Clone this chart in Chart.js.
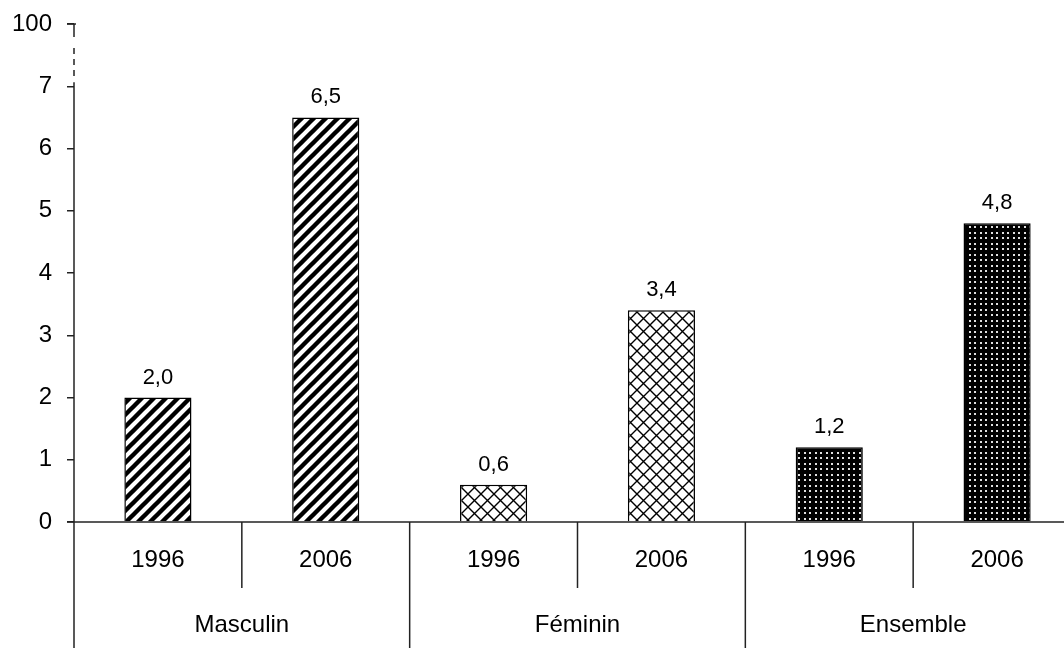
<!DOCTYPE html>
<html>
<head>
<meta charset="utf-8">
<script src="https://cdn.jsdelivr.net/npm/chart.js@4.4.1/dist/chart.umd.min.js"></script>
<style>
  html, body { margin: 0; padding: 0; background: #fff; overflow: hidden; width: 1064px; height: 648px; }
  #wrap { width: 1081px; height: 648px; }
</style>
</head>
<body>
<div id="wrap"><canvas id="c" width="1081" height="648"></canvas></div>
<script>
const groups = ['Masculin', 'Féminin', 'Ensemble'];
const years = ['1996', '2006', '1996', '2006', '1996', '2006'];
const rates = [2.0, 6.5, 0.6, 3.4, 1.2, 4.8];
const yTickLabels = ['0', '1', '2', '3', '4', '5', '6', '7', '100'];

const FONT = '"Liberation Sans", Arial, sans-serif';
Chart.defaults.color = '#000';
Chart.defaults.font.family = FONT;

function tile(size, draw) {
  const t = document.createElement('canvas');
  t.width = t.height = size;
  const g = t.getContext('2d');
  draw(g, size);
  return g.createPattern(t, 'repeat');
}

// diagonal stripes for Masculin
const stripes = tile(12, (g, s) => {
  g.fillStyle = '#fff';
  g.fillRect(0, 0, s, s);
  g.strokeStyle = '#000';
  g.lineWidth = 4.4;
  g.beginPath();
  g.moveTo(-s / 2, s / 2); g.lineTo(s / 2, -s / 2);
  g.moveTo(0, s); g.lineTo(s, 0);
  g.moveTo(s / 2, s * 1.5); g.lineTo(s * 1.5, s / 2);
  g.stroke();
});

// thin crosshatch for Féminin
const hatch = tile(13, (g, s) => {
  g.fillStyle = '#fff';
  g.fillRect(0, 0, s, s);
  g.strokeStyle = '#000';
  g.lineWidth = 1.4;
  g.beginPath();
  g.moveTo(-1, -1); g.lineTo(s + 1, s + 1);
  g.moveTo(-1, s + 1); g.lineTo(s + 1, -1);
  g.stroke();
});

// black with light dots for Ensemble
const dots = tile(11, (g, s) => {
  g.fillStyle = '#000';
  g.fillRect(0, 0, s, s);
  g.fillStyle = '#e0e0e0';
  [[1, 1], [6, 1], [1, 6], [6, 6]].forEach(([a, b]) => g.fillRect(a, b, 2, 2));
});

const fills = [stripes, stripes, hatch, hatch, dots, dots];

const decor = {
  id: 'decor',
  afterDatasetsDraw(chart) {
    const ctx = chart.ctx;
    ctx.save();
    ctx.font = '22px ' + FONT;
    ctx.fillStyle = '#000';
    ctx.textAlign = 'center';
    ctx.textBaseline = 'alphabetic';
    chart.getDatasetMeta(0).data.forEach((bar, i) => {
      ctx.fillText(rates[i].toFixed(1).replace('.', ','), bar.x, bar.y - 14);
    });
    ctx.restore();
  },
  afterDraw(chart) {
    const { ctx, scales: { x, y } } = chart;
    const y0 = y.getPixelForValue(0);
    const ax = x.left;
    const line = (x1, y1, x2, y2) => {
      ctx.beginPath(); ctx.moveTo(x1, y1); ctx.lineTo(x2, y2); ctx.stroke();
    };
    ctx.save();
    ctx.strokeStyle = '#222';
    ctx.lineWidth = 1.5;
    // y axis, solid part, running down as the first group border
    line(ax, y.getPixelForValue(7) - 4, ax, chart.height);
    // axis break up to 100
    line(ax - 7, y.getPixelForValue(8), ax + 2, y.getPixelForValue(8));
    line(ax, y.getPixelForValue(8), ax, y.getPixelForValue(8) + 13);
    ctx.setLineDash([6, 5]);
    line(ax, y.getPixelForValue(8) + 24, ax, y.getPixelForValue(7) - 8);
    ctx.setLineDash([]);
    // x axis
    line(ax - 7, y0, x.right, y0);
    // dividers between categories
    for (let i = 0; i < years.length - 1; i++) {
      const xm = (x.getPixelForValue(i) + x.getPixelForValue(i + 1)) / 2;
      const isGroup = (i + 1) % 2 === 0;
      line(xm, y0, xm, isGroup ? chart.height : y0 + 66);
    }
    // labels
    ctx.fillStyle = '#000';
    ctx.font = '24px ' + FONT;
    ctx.textAlign = 'center';
    ctx.textBaseline = 'middle';
    years.forEach((yr, i) => ctx.fillText(yr, x.getPixelForValue(i), y0 + 38));
    groups.forEach((g, k) => {
      const xc = (x.getPixelForValue(2 * k) + x.getPixelForValue(2 * k + 1)) / 2;
      ctx.fillText(g, xc, y0 + 103);
    });
    ctx.restore();
  }
};

new Chart(document.getElementById('c'), {
  type: 'bar',
  data: {
    labels: years,
    datasets: [{
      data: rates,
      backgroundColor: fills,
      borderColor: '#000',
      borderWidth: 1.5,
      barPercentage: 0.4,
      categoryPercentage: 1
    }]
  },
  options: {
    responsive: false,
    animation: false,
    devicePixelRatio: 1,
    layout: { padding: { top: 24, left: 0, right: 0, bottom: 0 } },
    plugins: { legend: { display: false }, tooltip: { enabled: false } },
    scales: {
      x: {
        grid: { display: false, drawTicks: false },
        border: { display: false },
        ticks: { display: false },
        afterFit(s) { s.height = 126; s.paddingLeft = 0; s.paddingRight = 0; }
      },
      y: {
        min: 0,
        max: 8,
        grid: { drawOnChartArea: false, tickLength: 7, color: '#222', lineWidth: 1.5 },
        border: { display: false },
        ticks: {
          stepSize: 1,
          padding: 15,
          color: '#000',
          font: { size: 24 },
          callback: (v, i) => yTickLabels[i]
        },
        afterFit(s) { s.width = 74; s.paddingTop = 0; s.paddingBottom = 0; }
      }
    }
  },
  plugins: [decor]
});
</script>
</body>
</html>
